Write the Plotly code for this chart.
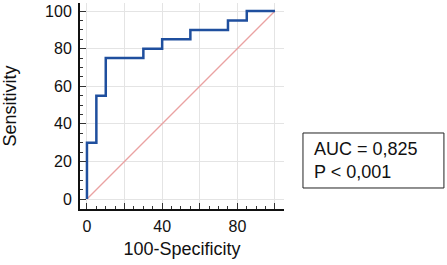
import plotly.graph_objects as go

# ROC curve points (step corners)
fpr = [0, 0, 5, 10, 30, 40, 55, 75, 85, 100]          # 100-Specificity
tpr = [0, 30, 55, 75, 80, 85, 90, 95, 100, 100]       # Sensitivity
ref_x = [0, 100]
ref_y = [0, 100]
x_tickvals = [0, 20, 40, 60, 80, 100]
x_ticktext = ["0", "", "40", "", "80", ""]
y_tickvals = [0, 20, 40, 60, 80, 100]
y_ticktext = ["0", "20", "40", "60", "80", "100"]
auc_text = "AUC = 0,825<br>P < 0,001"

FONT = "Liberation Sans, Arial, sans-serif"

fig = go.Figure()
fig.add_trace(go.Scatter(x=ref_x, y=ref_y, mode="lines",
                         line=dict(color="#eaa2a2", width=1.3), hoverinfo="skip"))
fig.add_trace(go.Scatter(x=fpr, y=tpr, mode="lines", line_shape="hv",
                         line=dict(color="#1f4f9e", width=2.5)))

axis_common = dict(
    showline=True, linecolor="#111111", linewidth=2,
    showgrid=True, gridcolor="#e4e4e4", gridwidth=1,
    zeroline=False, ticks="inside", ticklen=6, tickwidth=1, tickcolor="#333333",
    tickfont=dict(family=FONT, size=16, color="#111111"),
    minor=dict(ticks="inside", ticklen=3, tickwidth=1, tickcolor="#333333",
               dtick=5, showgrid=False),
    fixedrange=True, automargin=False,
)

fig.update_layout(
    width=447, height=265,
    margin=dict(l=80, r=163, t=3, b=56),
    paper_bgcolor="white", plot_bgcolor="white",
    showlegend=False,
    xaxis=dict(range=[-3.7, 104.8], tickmode="array", tickvals=x_tickvals,
               ticktext=x_ticktext, ticklabelstandoff=2,
               title=dict(text="100-Specificity", standoff=8,
                          font=dict(family=FONT, size=18, color="#111111")),
               **axis_common),
    yaxis=dict(range=[-5.3, 104.3], tickmode="array", tickvals=y_tickvals,
               ticktext=y_ticktext, ticklabelstandoff=3,
               title=dict(text="Sensitivity", standoff=24,
                          font=dict(family=FONT, size=18, color="#111111")),
               **axis_common),
    shapes=[dict(type="rect", xref="paper", yref="paper",
                 x0=1.093, x1=1.784, y0=0.102, y1=0.369,
                 line=dict(color="#222222", width=1), fillcolor="white")],
    annotations=[dict(text=auc_text, xref="paper", yref="paper",
                      x=1.137, y=0.235, xanchor="left", yanchor="middle",
                      align="left", showarrow=False,
                      font=dict(family=FONT, size=18, color="#111111"))],
)

fig.write_html(
    "out.html",
    config={"displayModeBar": False},
    post_script="document.body.style.margin='0';document.body.style.overflow='hidden';",
)
